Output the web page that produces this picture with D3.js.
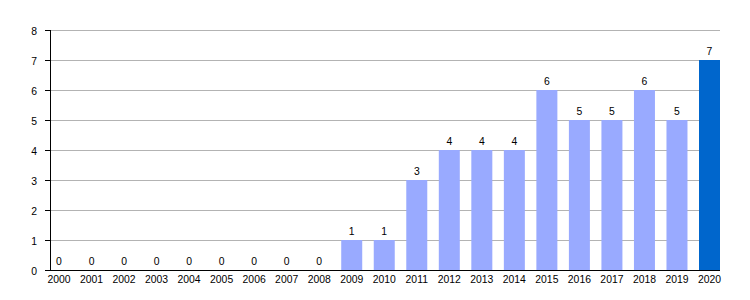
<!DOCTYPE html>
<html>
<head>
<meta charset="utf-8">
<script src="https://cdn.jsdelivr.net/npm/d3@7"></script>
<style>
body{margin:0;background:#fff}
text{font-family:"Liberation Sans",Arial,sans-serif;font-size:10.4px;fill:#000}
</style>
</head>
<body>
<div id="chart"></div>
<script>
var years = d3.range(2000,2021).map(String)
var counts = [0,0,0,0,0,0,0,0,0,1,1,3,4,4,4,6,5,5,6,5,7]
var yTicks = [0,1,2,3,4,5,6,7,8]

var width = 750, height = 300
var plotLeft = 50, plotRight = 720, plotTop = 30, plotBottom = 270

var svg = d3.select("#chart").append("svg")
  .attr("width",width).attr("height",height)

var x = d3.scalePoint().domain(years).range([59,709.5])
var barW = 21
var y = d3.scaleLinear().domain([0,8]).range([plotBottom,plotTop])

// grid
svg.append("g").selectAll("line").data(yTicks.slice(1)).enter()
  .append("line")
  .attr("x1",plotLeft).attr("x2",plotRight)
  .attr("y1",d=>y(d)+0.5).attr("y2",d=>y(d)+0.5)
  .style("stroke","#b3b3b3").style("stroke-width",1)

// bars
svg.append("g").selectAll("rect").data(counts).enter()
  .append("rect")
  .attr("x",(d,i)=>x(years[i])-barW/2)
  .attr("width",barW)
  .attr("y",d=>y(d))
  .attr("height",d=>y(0)-y(d))
  .style("fill",(d,i)=>i==counts.length-1 ? "#0066cc" : "#99aaff")

// value labels
svg.append("g").selectAll("text").data(counts).enter()
  .append("text")
  .attr("x",(d,i)=>x(years[i]))
  .attr("y",d=>y(d)-5)
  .attr("text-anchor","middle")
  .text(d=>d)

// y axis
var yAxis = svg.append("g")
yAxis.append("line").attr("x1",plotLeft+0.5).attr("x2",plotLeft+0.5).attr("y1",plotTop).attr("y2",plotBottom)
  .style("stroke","#000")
yAxis.selectAll("line.tick").data(yTicks).enter()
  .append("line").classed("tick",true)
  .attr("x1",plotLeft-5).attr("x2",plotLeft)
  .attr("y1",d=>y(d)+0.5).attr("y2",d=>y(d)+0.5)
  .style("stroke","#000")
yAxis.selectAll("text").data(yTicks).enter()
  .append("text")
  .attr("x",37).attr("y",d=>y(d)+4.5)
  .attr("text-anchor","end")
  .text(d=>d)

// x axis
var xAxis = svg.append("g")
xAxis.append("line").attr("x1",plotLeft-5).attr("x2",plotRight).attr("y1",plotBottom+0.5).attr("y2",plotBottom+0.5)
  .style("stroke","#000")
xAxis.selectAll("text").data(years).enter()
  .append("text")
  .attr("x",d=>x(d)).attr("y",plotBottom+12.5)
  .attr("text-anchor","middle")
  .text(d=>d)
</script>
</body>
</html>
